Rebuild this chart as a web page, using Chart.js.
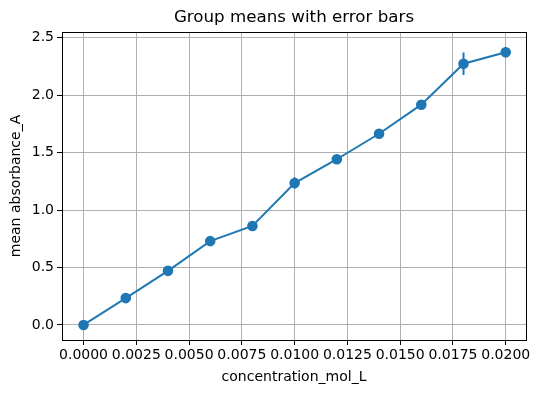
<!DOCTYPE html>
<html>
<head>
<meta charset="utf-8">
<script src="https://cdn.jsdelivr.net/npm/chart.js@4/dist/chart.umd.min.js"></script>
<style>
  html, body { margin: 0; padding: 0; background: #fff; }
  #wrap { width: 539px; height: 393px; }
</style>
</head>
<body>
<div id="wrap"><canvas id="chart" width="539" height="393"></canvas></div>
<script>
const concentration = [0, 0.002, 0.004, 0.006, 0.008, 0.010, 0.012, 0.014, 0.016, 0.018, 0.020];
const meanAbsorbance = [0.0, 0.234, 0.471, 0.730, 0.862, 1.236, 1.443, 1.665, 1.918, 2.275, 2.375];
const errors = [0.01, 0.02, 0.02, 0.02, 0.02, 0.05, 0.02, 0.02, 0.02, 0.098, 0.045];
const xTicks = [0, 0.0025, 0.005, 0.0075, 0.01, 0.0125, 0.015, 0.0175, 0.02];
const yTicks = [0, 0.5, 1.0, 1.5, 2.0, 2.5];
const titleText = 'Group means with error bars';

const blue = '#1f77b4';
const font = { family: 'DejaVu Sans', size: 14 };

// vertical error bars, drawn under the points
const errorBars = {
  id: 'errorBars',
  beforeDatasetsDraw(chart) {
    const { ctx, scales: { x, y } } = chart;
    ctx.save();
    ctx.strokeStyle = blue;
    ctx.lineWidth = 2;
    concentration.forEach((c, i) => {
      const px = x.getPixelForValue(c);
      ctx.beginPath();
      ctx.moveTo(px, y.getPixelForValue(meanAbsorbance[i] - errors[i]));
      ctx.lineTo(px, y.getPixelForValue(meanAbsorbance[i] + errors[i]));
      ctx.stroke();
    });
    ctx.restore();
  }
};

// black frame round the plot area, title centred over it
const frame = {
  id: 'frame',
  afterDraw(chart) {
    const { ctx, chartArea: a } = chart;
    ctx.save();
    ctx.strokeStyle = '#000';
    ctx.lineWidth = 1;
    ctx.strokeRect(Math.round(a.left) + 0.5, Math.round(a.top) + 0.5,
      Math.round(a.right - a.left), Math.round(a.bottom - a.top));
    ctx.fillStyle = '#000';
    ctx.font = '16.7px "DejaVu Sans"';
    ctx.textAlign = 'center';
    ctx.textBaseline = 'middle';
    ctx.fillText(titleText, (a.left + a.right) / 2, 18);
    ctx.restore();
  }
};

new Chart(document.getElementById('chart'), {
  type: 'line',
  data: {
    datasets: [{
      data: concentration.map((c, i) => ({ x: c, y: meanAbsorbance[i] })),
      borderColor: blue,
      backgroundColor: blue,
      borderWidth: 2,
      pointRadius: 4.3,
      pointHoverRadius: 4.3,
      tension: 0
    }]
  },
  options: {
    responsive: false,
    animation: false,
    layout: { padding: { left: 0, right: 13, top: 32, bottom: 0 } },
    plugins: {
      legend: { display: false },
      tooltip: { enabled: false },
      title: { display: false }
    },
    scales: {
      x: {
        type: 'linear',
        min: -0.00102,
        max: 0.02096,
        afterBuildTicks: s => { s.ticks = xTicks.map(v => ({ value: v })); },
        afterFit: s => { s.height = 53; },
        ticks: { color: '#000', font, padding: 2, maxRotation: 0, callback: v => v.toFixed(4) },
        grid: { color: '#b0b0b0', lineWidth: 1, tickColor: '#000', tickLength: 5 },
        border: { color: '#000', width: 1 },
        title: { display: true, text: 'concentration_mol_L', color: '#000', font, padding: { top: 0, bottom: 7 } }
      },
      y: {
        min: -0.131,
        max: 2.551,
        afterBuildTicks: s => { s.ticks = yTicks.map(v => ({ value: v })); },
        afterFit: s => { s.width = 62; },
        ticks: { color: '#000', font, padding: 3, callback: v => v.toFixed(1) },
        grid: { color: '#b0b0b0', lineWidth: 1, tickColor: '#000', tickLength: 5 },
        border: { color: '#000', width: 1 },
        title: { display: true, text: 'mean absorbance_A', color: '#000', font, padding: { top: 8, bottom: 0 } }
      }
    }
  },
  plugins: [errorBars, frame]
});
</script>
</body>
</html>
